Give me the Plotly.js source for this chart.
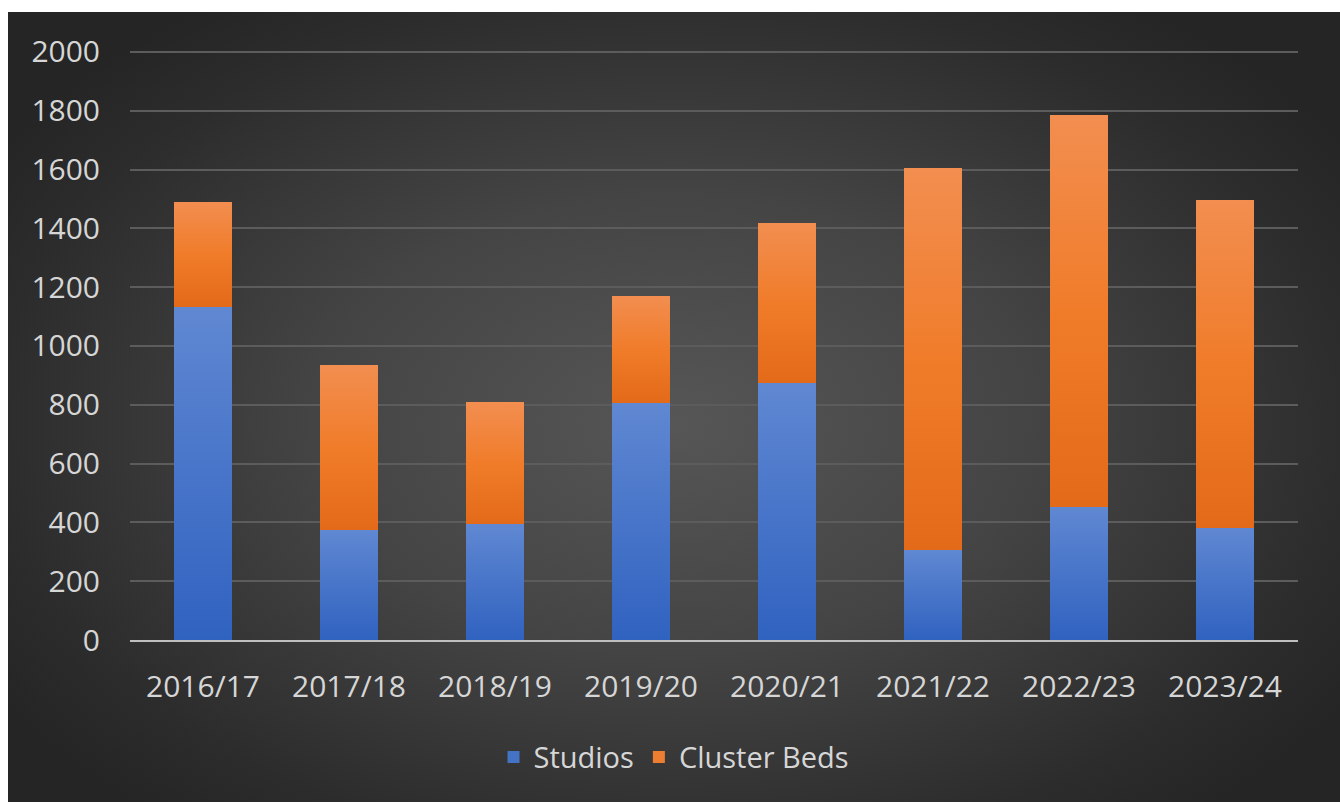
<!DOCTYPE html>
<html>
<head>
<meta charset="utf-8">
<script src="https://cdn.plot.ly/plotly-3.0.1.min.js"></script>
<style>
  html, body { margin: 0; padding: 0; background: #ffffff; width: 1340px; height: 802px; overflow: hidden; }
  #bg { position: absolute; left: 8px; top: 12px; width: 1332px; height: 790px;
        background: radial-gradient(ellipse 60% 65% at 50% 52%, #565656 0%, #444444 45%, #2c2c2c 85%, #252525 100%); }
  #chart { position: absolute; left: 0; top: 0; width: 1340px; height: 802px; }
  .barlayer .trace:nth-of-type(1) .point path { fill: url(#gBlue) !important; }
  .barlayer .trace:nth-of-type(2) .point path { fill: url(#gOrange) !important; }
</style>
</head>
<body>
<svg width="0" height="0" style="position:absolute">
  <defs>
    <linearGradient id="gBlue" x1="0" y1="0" x2="0" y2="1">
      <stop offset="0" stop-color="#6088d2"/>
      <stop offset="1" stop-color="#3062c0"/>
    </linearGradient>
    <linearGradient id="gOrange" x1="0" y1="0" x2="0" y2="1">
      <stop offset="0" stop-color="#f28e50"/>
      <stop offset="0.5" stop-color="#f07c2a"/>
      <stop offset="1" stop-color="#e36a18"/>
    </linearGradient>
  </defs>
</svg>
<div id="bg"></div>
<div id="chart"></div>
<script>
const categories = ['2016/17', '2017/18', '2018/19', '2019/20', '2020/21', '2021/22', '2022/23', '2023/24'];
const studios = [1134, 374, 393, 807, 875, 305, 453, 382];
const clusterBeds = [357, 560, 415, 363, 542, 1299, 1334, 1115];
const yTicks = [0, 200, 400, 600, 800, 1000, 1200, 1400, 1600, 1800, 2000];

const textColor = '#d6d6d6';
const fontFamily = '"Open Sans", "Liberation Sans", sans-serif';

const traces = [
  { type: 'bar', name: 'Studios', x: categories, y: studios,
    marker: { color: '#4472c4', line: { width: 0 } } },
  { type: 'bar', name: 'Cluster Beds', x: categories, y: clusterBeds,
    marker: { color: '#ed7d31', line: { width: 0 } } }
];

const layout = {
  width: 1340, height: 802,
  barmode: 'stack',
  bargap: 0.6,
  paper_bgcolor: 'rgba(0,0,0,0)',
  plot_bgcolor: 'rgba(0,0,0,0)',
  margin: { l: 130, r: 42, t: 49, b: 162 },
  font: { family: fontFamily, color: textColor, size: 29 },
  showlegend: true,
  legend: {
    orientation: 'h', xref: 'container', yref: 'container',
    x: 0.503, xanchor: 'center', y: 0.056, yanchor: 'middle',
    font: { family: fontFamily, size: 29, color: textColor },
    bgcolor: 'rgba(0,0,0,0)', traceorder: 'normal',
    itemwidth: 30
  },
  xaxis: {
    type: 'category',
    showgrid: false,
    showline: true, linecolor: '#bfbfbf', linewidth: 2,
    ticks: '', ticklabelstandoff: 19,
    tickfont: { family: fontFamily, size: 30, color: textColor },
    fixedrange: true
  },
  yaxis: {
    range: [0, 2010],
    tickvals: yTicks,
    ticktext: yTicks.map(String),
    showgrid: true, gridcolor: '#5c5c5c', gridwidth: 2,
    zeroline: false, showline: false,
    ticks: '', ticklabelstandoff: 29,
    tickfont: { family: fontFamily, size: 30, color: textColor },
    fixedrange: true
  }
};

Plotly.newPlot('chart', traces, layout, { staticPlot: true, displayModeBar: false });
</script>
</body>
</html>
